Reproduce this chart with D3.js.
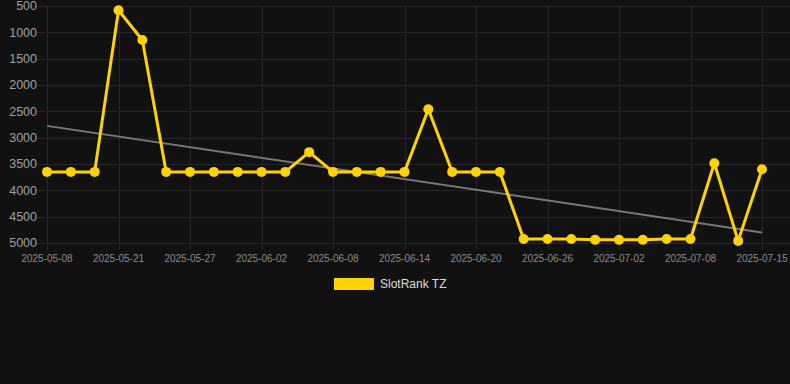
<!DOCTYPE html>
<html><head><meta charset="utf-8">
<script src="https://cdn.jsdelivr.net/npm/d3@7"></script>
<style>
html,body{margin:0;padding:0;background:#111111;}
svg{display:block;}
</style></head>
<body>
<svg id="c" width="790" height="384"></svg>
<script>
const dates = ["2025-05-08","2025-05-13","2025-05-17","2025-05-21","2025-05-23","2025-05-25",
"2025-05-27","2025-05-29","2025-05-31","2025-06-02","2025-06-04","2025-06-06",
"2025-06-08","2025-06-10","2025-06-12","2025-06-14","2025-06-16","2025-06-18",
"2025-06-20","2025-06-22","2025-06-24","2025-06-26","2025-06-28","2025-06-30",
"2025-07-02","2025-07-04","2025-07-06","2025-07-08","2025-07-10","2025-07-12","2025-07-15"];
const rank = [3650,3650,3650,580,1145,3650,3650,3650,3650,3650,3650,3275,3650,3650,3650,3650,
2460,3650,3650,3650,4925,4925,4925,4940,4940,4940,4925,4925,3485,4960,3600];
const trendEnds = [2776, 4799];
const yTicks = [500,1000,1500,2000,2500,3000,3500,4000,4500,5000];
const seriesName = "SlotRank TZ";

(function(){
const svg = d3.select("#c");
const mL = 47, mR = 762, mT = 6, mB = 243;
const x = d3.scalePoint().domain(dates).range([mL, mR]);
const y = d3.scaleLinear().domain([500, 5000]).range([mT, mB]);
const xTickVals = dates.filter((d,i)=> i % 3 === 0);

// grid
svg.append("g").selectAll("line").data(yTicks).join("line")
  .attr("x1", 37).attr("x2", 790)
  .attr("y1", d=>Math.round(y(d))+0.5).attr("y2", d=>Math.round(y(d))+0.5)
  .attr("stroke", "#262626").attr("stroke-width", 1);
svg.append("g").selectAll("line").data(xTickVals).join("line")
  .attr("x1", d=>Math.round(x(d))+0.5).attr("x2", d=>Math.round(x(d))+0.5)
  .attr("y1", mT).attr("y2", mB+7)
  .attr("stroke", "#262626").attr("stroke-width", 1);

// y labels
svg.append("g").selectAll("text").data(yTicks).join("text")
  .attr("x", 37).attr("y", d=>y(d)).attr("dy", "0.35em")
  .attr("text-anchor", "end")
  .attr("font-family", "Liberation Sans, Arial, sans-serif").attr("font-size", 12.5)
  .attr("fill", "#a0a0a0").text(d=>d);

// x labels
svg.append("g").selectAll("text").data(xTickVals).join("text")
  .attr("x", d=>x(d)).attr("y", 262)
  .attr("text-anchor", "middle")
  .attr("font-family", "Liberation Sans, Arial, sans-serif").attr("font-size", 10)
  .attr("fill", "#8a8a8a").text(d=>d);

// trend
svg.append("line")
  .attr("x1", x(dates[0])).attr("x2", x(dates[dates.length-1]))
  .attr("y1", y(trendEnds[0])).attr("y2", y(trendEnds[1]))
  .attr("stroke", "#777777").attr("stroke-width", 2);

// series
const line = d3.line().x((d,i)=>x(dates[i])).y(d=>y(d));
svg.append("path").datum(rank).attr("d", line)
  .attr("fill", "none").attr("stroke", "#FFD200").attr("stroke-width", 3)
  .attr("stroke-linejoin", "round");
svg.append("g").selectAll("circle").data(rank).join("circle")
  .attr("cx", (d,i)=>x(dates[i])).attr("cy", d=>y(d)).attr("r", 5)
  .attr("fill", "#FFD200");

// legend
svg.append("rect").attr("x", 334).attr("y", 278).attr("width", 40).attr("height", 12)
  .attr("fill", "#FFD200");
svg.append("text").attr("x", 380).attr("y", 284).attr("dy", "0.35em")
  .attr("font-family", "Liberation Sans, Arial, sans-serif").attr("font-size", 12)
  .attr("fill", "#dddddd").text(seriesName);
})();
</script>
</body></html>
